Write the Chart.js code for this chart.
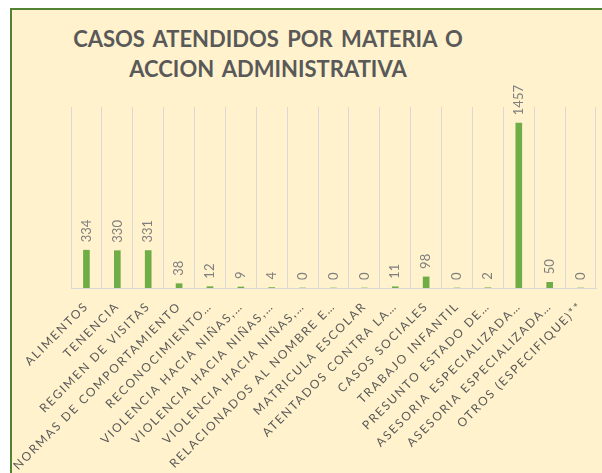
<!DOCTYPE html>
<html>
<head>
<meta charset="utf-8">
<script src="https://cdn.jsdelivr.net/npm/chart.js@4.4.1/dist/chart.umd.min.js"></script>
<style>
  html, body { margin: 0; padding: 0; background: #ffffff; width: 602px; height: 473px; overflow: hidden; }
  #marco { position: absolute; left: 10px; top: 8px; width: 600px; height: 470px; background: #fff2cc;
           border-left: 2px solid #548235; border-top: 2px solid #548235; }
  #titulo { position: absolute; left: 0; top: 24px; width: 536px; text-align: center;
            font: bold 22px Lato, sans-serif; color: #595959; letter-spacing: 0px; word-spacing: 3px; line-height: 30px; }
  #lienzo { position: absolute; left: 0; top: 0; }
</style>
</head>
<body>
<div id="marco"></div>
<div id="titulo">CASOS ATENDIDOS POR MATERIA O<br>ACCION ADMINISTRATIVA</div>
<canvas id="lienzo" width="602" height="473"></canvas>
<script>
// Datos
const categorias = [
  'ALIMENTOS',
  'TENENCIA',
  'REGIMEN DE VISITAS',
  'NORMAS DE COMPORTAMIENTO',
  'RECONOCIMIENTO…',
  'VIOLENCIA HACIA NIÑAS,…',
  'VIOLENCIA HACIA NIÑAS,…',
  'VIOLENCIA HACIA NIÑAS,…',
  'RELACIONADOS AL NOMBRE E…',
  'MATRICULA ESCOLAR',
  'ATENTADOS CONTRA LA…',
  'CASOS SOCIALES',
  'TRABAJO INFANTIL',
  'PRESUNTO ESTADO DE…',
  'ASESORIA ESPECIALIZADA…',
  'ASESORIA ESPECIALIZADA…',
  'OTROS (ESPECIFIQUE)**'
];
const casos = [334, 330, 331, 38, 12, 9, 4, 0, 0, 0, 11, 98, 0, 2, 1457, 50, 0];
const ejeMin = 0;
const ejeMax = 1600;

// Espaciado de letras como en el original
const espaciado = {
  id: 'espaciado',
  beforeUpdate(chart) { chart.ctx.letterSpacing = '1.8px'; },
  beforeDraw(chart) { chart.ctx.letterSpacing = '1.8px'; }
};

// Etiquetas de valor giradas sobre cada barra
const etiquetasValor = {
  id: 'etiquetasValor',
  afterDatasetsDraw(chart) {
    const ctx = chart.ctx;
    const meta = chart.getDatasetMeta(0);
    ctx.save();
    ctx.letterSpacing = '0px';
    ctx.font = '13px Lato, sans-serif';
    ctx.fillStyle = '#7f7f7f';
    ctx.textAlign = 'left';
    ctx.textBaseline = 'middle';
    meta.data.forEach((barra, i) => {
      ctx.save();
      ctx.translate(barra.x, barra.y - 8);
      ctx.rotate(-Math.PI / 2);
      ctx.fillText(String(casos[i]), 0, 0);
      ctx.restore();
    });
    ctx.restore();
  }
};

new Chart(document.getElementById('lienzo'), {
  type: 'bar',
  data: {
    labels: categorias,
    datasets: [{
      data: casos,
      backgroundColor: '#70ad47',
      barThickness: 6
    }]
  },
  options: {
    responsive: false,
    animation: false,
    layout: { padding: { left: 71, right: 6, top: 107, bottom: 0 } },
    plugins: {
      legend: { display: false },
      title: { display: false },
      tooltip: { enabled: false }
    },
    scales: {
      x: {
        grid: { color: '#d9d9d9', drawTicks: false, offset: true },
        border: { color: '#d9d9d9' },
        ticks: {
          autoSkip: false,
          maxRotation: 45,
          minRotation: 45,
          padding: 11,
          color: '#595959',
          font: { family: 'Lato', size: 12 }
        },
        afterFit(scale) { scale.height = 185; }
      },
      y: {
        display: false,
        min: ejeMin,
        max: ejeMax
      }
    }
  },
  plugins: [espaciado, etiquetasValor]
});
</script>
</body>
</html>
